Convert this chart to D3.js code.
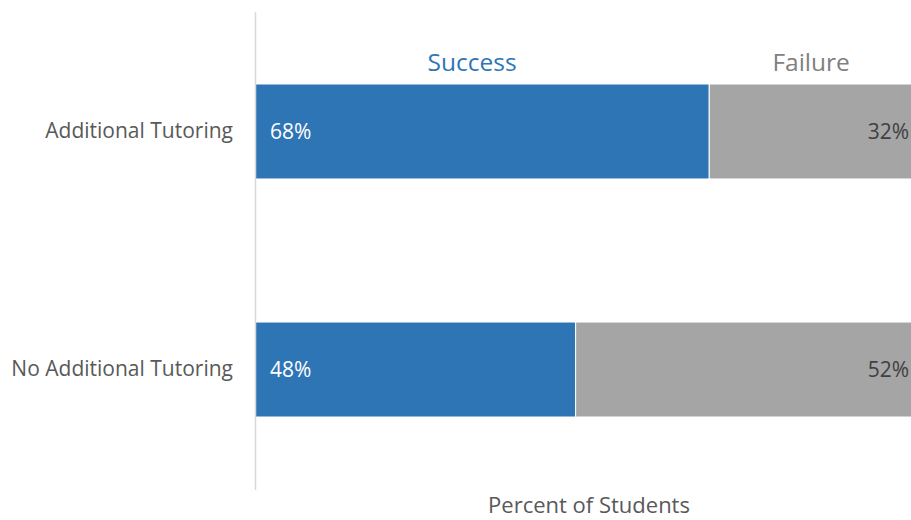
<!DOCTYPE html>
<html>
<head>
<meta charset="utf-8">
<script src="https://d3js.org/d3.v7.min.js"></script>
<style>
	body { margin: 0; background: #fff; overflow: hidden; }
	svg text { font-family: "Open Sans", "Noto Sans", sans-serif; }
</style>
</head>
<body>
<svg id="chart" width="911" height="520"></svg>
<script>
// data
var categories = ["Additional Tutoring", "No Additional Tutoring"];
var seriesNames = ["Success", "Failure"];
var success = [0.68, 0.48];
var failure = [0.32, 0.52];
var colors = ["#2e75b6", "#a5a5a5"];

var svg = d3.select("#chart");
var margin = { left: 255, top: 12 };

var x = d3.scaleLinear()
	.domain([0, 1])
	.range([margin.left, 923]);

var y = d3.scaleBand()
	.domain(categories)
	.range([84, 417])
	.paddingInner(0.601)
	.paddingOuter(0);

// stacked rows
var rows = categories.map(function(c, i) {
	return { cat: c, vals: [success[i], failure[i]] };
});
var stack = [];
rows.forEach(function(r) {
	var acc = 0;
	r.vals.forEach(function(v, j) {
		stack.push({ cat: r.cat, s: j, x0: acc, x1: acc + v, v: v });
		acc += v;
	});
});

svg.append("g")
	.selectAll("rect")
	.data(stack)
	.enter()
	.append("rect")
	.attr("x", function(d) { return x(d.x0); })
	.attr("y", function(d) { return y(d.cat); })
	.attr("width", function(d) { return x(d.x1) - x(d.x0); })
	.attr("height", y.bandwidth())
	.attr("fill", function(d) { return colors[d.s]; })
	.attr("stroke", "#fff")
	.attr("stroke-width", 1);

// value labels
svg.append("g")
	.selectAll("text")
	.data(stack)
	.enter()
	.append("text")
	.attr("x", function(d) { return d.s === 0 ? x(d.x0) + 15 : x(d.x1) - 14; })
	.attr("y", function(d) { return y(d.cat) + y.bandwidth() / 2; })
	.attr("dy", "0.35em")
	.attr("text-anchor", function(d) { return d.s === 0 ? "start" : "end"; })
	.attr("fill", function(d) { return d.s === 0 ? "#ffffff" : "#404040"; })
	.style("font-size", "21px")
	.text(function(d) { return Math.round(d.v * 100) + "%"; });

// vertical axis
var yAxis = svg.append("g")
	.attr("transform", "translate(" + margin.left + ",0)")
	.call(d3.axisLeft(y).tickSize(0).tickPadding(22));
yAxis.select(".domain")
	.attr("d", "M0.5," + margin.top + "V490")
	.attr("stroke", "#d9d9d9")
	.attr("stroke-width", 1.5);
yAxis.selectAll("text")
	.attr("fill", "#595959")
	.style("font-size", "21px")
	.style("font-family", "'Open Sans', 'Noto Sans', sans-serif");

// series labels above the first bar
var first = stack.filter(function(d) { return d.cat === categories[0]; });
svg.append("g")
	.selectAll("text")
	.data(first)
	.enter()
	.append("text")
	.attr("x", function(d) { return (x(d.x0) + x(d.x1)) / 2 - (d.s === 0 ? 10 : 5); })
	.attr("y", y(categories[0]) - 13)
	.attr("text-anchor", "middle")
	.attr("fill", function(d) { return d.s === 0 ? "#2e75b6" : "#808080"; })
	.style("font-size", "24.5px")
	.text(function(d) { return seriesNames[d.s]; });

// axis title
svg.append("text")
	.attr("x", (x.range()[0] + x.range()[1]) / 2)
	.attr("y", 513)
	.attr("text-anchor", "middle")
	.attr("fill", "#595959")
	.style("font-size", "22px")
	.text("Percent of Students");
</script>
</body>
</html>
